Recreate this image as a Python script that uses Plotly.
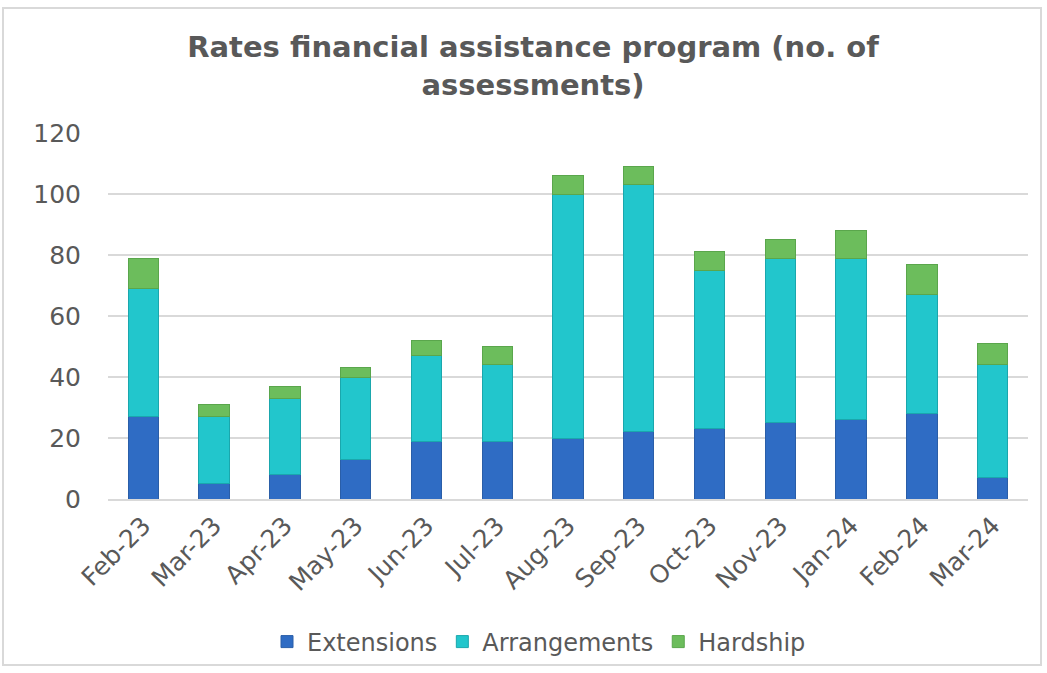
import plotly.graph_objects as go

months = ["Feb-23", "Mar-23", "Apr-23", "May-23", "Jun-23", "Jul-23", "Aug-23",
          "Sep-23", "Oct-23", "Nov-23", "Jan-24", "Feb-24", "Mar-24"]
extensions = [27, 5, 8, 13, 19, 19, 20, 22, 23, 25, 26, 28, 7]
arrangements = [42, 22, 25, 27, 28, 25, 80, 81, 52, 54, 53, 39, 37]
hardship = [10, 4, 4, 3, 5, 6, 6, 6, 6, 6, 9, 10, 7]
y_ticks = [0, 20, 40, 60, 80, 100, 120]

FONT = "DejaVu Sans, Century Gothic, sans-serif"
GREY = "#595959"

fig = go.Figure()
fig.add_trace(go.Bar(name="Extensions", x=months, y=extensions,
                     marker=dict(color="#2f6cc4", line=dict(color="#2a5ea8", width=1))))
fig.add_trace(go.Bar(name="Arrangements", x=months, y=arrangements,
                     marker=dict(color="#22c6cc", line=dict(color="#1aa7ad", width=1))))
fig.add_trace(go.Bar(name="Hardship", x=months, y=hardship,
                     marker=dict(color="#6cbd5c", line=dict(color="#5aa64c", width=1))))

W, H = 1047, 673
ml, mr, mt, mb = 108, 19, 133, 174
pw, ph = W - ml - mr, H - mt - mb

def px_to_paper_x(px):
    return (px - ml) / pw

def px_to_paper_y(py):
    return (H - mb - py) / ph

fig.update_layout(
    barmode="stack",
    bargap=0.57,
    width=W, height=H,
    margin=dict(l=ml, r=mr, t=mt, b=mb, autoexpand=False),
    paper_bgcolor="white",
    plot_bgcolor="white",
    font=dict(family=FONT, color=GREY, size=20),
    title=dict(text="<b>Rates financial assistance program (no. of<br>assessments)</b>",
               x=px_to_paper_x(533), xref="paper", xanchor="center",
               y=1 - 57 / H, yref="container", yanchor="top",
               font=dict(family=FONT, size=29, color=GREY)),
    legend=dict(orientation="h", x=px_to_paper_x(539), xanchor="center",
                y=px_to_paper_y(642), yanchor="middle",
                bgcolor="rgba(0,0,0,0)",
                font=dict(size=24, color=GREY), traceorder="normal"),
    showlegend=True,
    shapes=[dict(type="rect", xref="paper", yref="paper",
                 x0=px_to_paper_x(3), x1=px_to_paper_x(1041),
                 y0=px_to_paper_y(665), y1=px_to_paper_y(8),
                 line=dict(color="#d9d9d9", width=2), fillcolor="rgba(0,0,0,0)",
                 layer="below")],
)
fig.update_yaxes(range=[0, 120], tickvals=y_ticks, showgrid=True, gridcolor="#d9d9d9",
                 gridwidth=2, zeroline=False, showline=False, ticks="",
                 tickfont=dict(size=25, color=GREY), ticklabelstandoff=26,
                 automargin=False)
fig.update_xaxes(tickangle=-45, showline=True, linecolor="#d9d9d9", linewidth=2,
                 ticks="", tickfont=dict(size=25, color=GREY), automargin=False)

fig.write_html("out.html")
